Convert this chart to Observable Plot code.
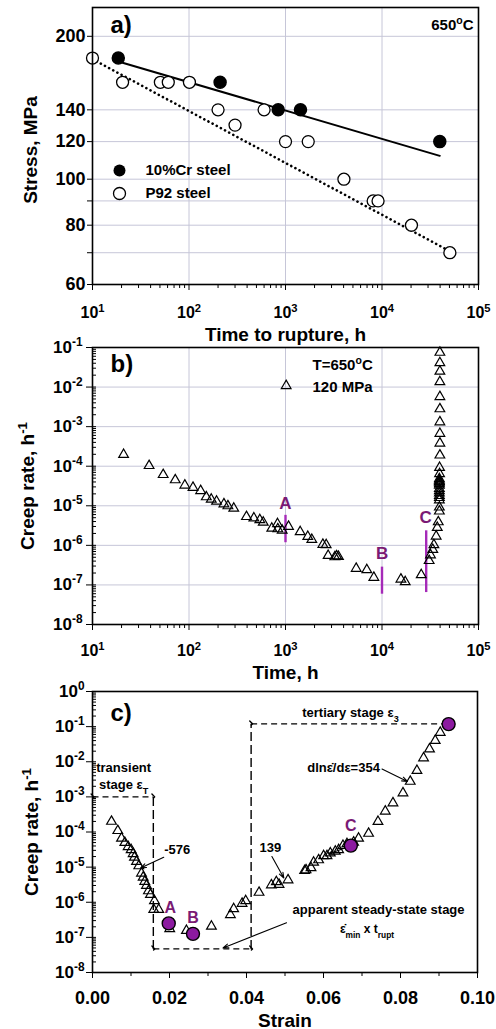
<!DOCTYPE html>
<html><head><meta charset="utf-8">
<script src="https://cdn.jsdelivr.net/npm/d3@7"></script>
<script src="https://cdn.jsdelivr.net/npm/@observablehq/plot@0.6"></script>
<style>
body{margin:0;background:#fff;}
#chart svg{display:block;}
</style></head><body><div id="chart"></div>
<script>
// ---------- Panel a data ----------
const crTime = [18.5, 210, 840, 1430, 39700];
const crStress = [180, 160, 140, 140, 120];
const p92Time = [10, 20.5, 50.5, 61, 101, 200, 300, 600, 1000, 1720, 4030, 8100, 9100, 20200, 50500];
const p92Stress = [180, 160, 160, 160, 160, 140, 130, 140, 120, 120, 100, 90, 90, 80, 70];
const crFitTime = [18.5, 39700];
const crFitStress = [177, 112];
const p92FitTime = [10, 50500];
const p92FitStress = [179, 70.5];
const stressTicks = [60, 80, 100, 120, 140, 200];
const stressMinorTicks = [70, 90];
const stressGrid = [70, 80, 90, 100, 120, 140, 200];
const timeTicks = [10, 100, 1000, 10000, 100000];
const timeGrid = [100, 1000, 10000];
const legendLabels = ["10%Cr steel", "P92 steel"];

// ---------- Panel b data ----------
const timeB = [21, 38.6, 54, 72, 90.5, 110, 132, 151, 170, 193, 230, 253, 291, 394, 470, 542, 588, 721, 826, 832, 924, 1075, 1016, 1419, 1702, 1874, 2438, 2640, 2767, 3245, 3380, 3540, 5400, 6960, 8230, 15700, 17400, 25500, 30800, 31800, 33600, 34500, 36400, 37400, 38300,
  39300, 39300, 39300, 39300, 39300, 39300, 39300, 39300, 39300, 39300, 39300, 39300, 39300, 39300, 39500, 39500,
  39800, 39800, 39800, 39800, 39800, 39800, 39800, 39800, 39800, 39800];
const rateB = [1.96e-4, 1.03e-4, 6.1e-5, 4.5e-5, 3.3e-5, 2.9e-5, 2.4e-5, 1.67e-5, 1.46e-5, 1.3e-5, 1.11e-5, 9.9e-6, 8.6e-6, 5.3e-6, 4.9e-6, 4.4e-6, 3.8e-6, 2.7e-6, 3.5e-6, 2.6e-6, 2.4e-6, 3.0e-6, 1.08e-2, 2.2e-6, 1.67e-6, 1.4e-6, 1.05e-6, 1.03e-6, 5.5e-7, 5.1e-7, 5.4e-7, 5.2e-7, 2.6e-7, 2.4e-7, 1.54e-7, 1.39e-7, 1.2e-7, 1.8e-7, 4.1e-7, 5.7e-7, 7.8e-7, 1.03e-6, 1.7e-6, 2.8e-6, 3.9e-6,
  7.3e-6, 9.2e-6, 1.4e-5, 1.6e-5, 1.8e-5, 2.1e-5, 2.4e-5, 2.7e-5, 3.3e-5, 3.6e-5, 3.9e-5, 4.1e-5, 4.4e-5, 4.8e-5, 6.4e-5, 9.2e-5,
  1.9e-4, 3.8e-4, 6.7e-4, 1.31e-3, 2.8e-3, 5.7e-3, 1.36e-2, 2.5e-2, 4.1e-2, 7.5e-2];
const markLabels = ["A", "B", "C"];
const markTime = [1000, 10000, 28700];
const markLow = [1.2e-6, 6e-8, 6.6e-8];
const markHigh = [5.9e-6, 2.9e-7, 2.4e-6];
const markLabelTime = [1000, 10050, 28300];
const markLabelRate = [1.11e-5, 6.3e-7, 4.94e-6];
const rateTicksB = [1e-8, 1e-7, 1e-6, 1e-5, 1e-4, 1e-3, 1e-2, 1e-1];

// ---------- Panel c data ----------
const strainC = [0.00493, 0.00657, 0.00753, 0.0084, 0.00926, 0.01004, 0.01056, 0.0109, 0.01142, 0.01202, 0.01272, 0.01316, 0.01357, 0.01401, 0.01453, 0.01505, 0.01609, 0.01591, 0.01721,
  0.02006, 0.0244, 0.03089, 0.03582, 0.03667, 0.03885, 0.03979, 0.04326, 0.04646, 0.04775, 0.04845, 0.05079, 0.0551, 0.05546, 0.05676, 0.05743, 0.05873, 0.06003, 0.06091, 0.06177, 0.06307, 0.06393, 0.06506, 0.0661, 0.06782, 0.06911, 0.07171, 0.07415, 0.07604, 0.07804, 0.08064, 0.08253, 0.08427, 0.08599, 0.08754, 0.08902, 0.09032];
const rateC = [2.0e-4, 1.09e-4, 6.6e-5, 5.0e-5, 3.8e-5, 3.1e-5, 2.4e-5, 1.9e-5, 1.43e-5, 1.08e-5, 6.7e-6, 5.1e-6, 3.9e-6, 3.0e-6, 2.1e-6, 1.65e-6, 1.1e-6, 6.2e-7, 6.2e-7,
  1.75e-7, 1.56e-7, 2.07e-7, 4.4e-7, 6.5e-7, 9.2e-7, 1.1e-6, 1.9e-6, 3.1e-6, 3.8e-6, 3.2e-6, 4.3e-6, 7.9e-6, 8.3e-6, 9.5e-6, 1.37e-5, 1.6e-5, 2.1e-5, 2.1e-5, 2.5e-5, 2.8e-5, 3.1e-5, 4.1e-5, 4.6e-5, 5.1e-5, 6.6e-5, 9.1e-5, 1.97e-4, 3.9e-4, 6.7e-4, 1.29e-3, 2.75e-3, 5.6e-3, 1.28e-2, 2.3e-2, 4.0e-2, 6.8e-2];
const pointStrain = [0.0198, 0.0261, 0.0671, 0.0925];
const pointRate = [2.5e-7, 1.26e-7, 4.1e-5, 0.118];
const pointLabels = ["A", "B", "C"];
const pointLabelStrain = [0.0202, 0.0261, 0.0671];
const pointLabelRate = [6.9e-7, 3.7e-7, 1.5e-4];
const dashX1 = [0, 0.0158, 0.0158, 0.0412, 0.0412];
const dashY1 = [1e-3, 1e-3, 4.7e-8, 4.7e-8, 0.12];
const dashX2 = [0.0158, 0.0158, 0.0412, 0.0412, 0.0915];
const dashY2 = [1e-3, 4.7e-8, 4.7e-8, 0.12, 0.12];
const dashHeads = [true, false, true, false, true];
const annText = ["transient", "stage ε_{T}", "tertiary stage ε_{3}", "dlnε\u0307/dε=354", "-576", "139", "apparent steady-state stage", "ε\u0307_{min} x t_{rupt}"];
const annStrain = [0.0081, 0.0081, 0.0670, 0.0652, 0.0220, 0.0462, 0.0743, 0.0713];
const annRate = [6.5e-3, 2.2e-3, 0.243, 6.9e-3, 3.15e-5, 3.66e-5, 6.2e-7, 1.75e-7];
const arrowFromStrain = [0.0185, 0.0466, 0.0752, 0.0504, 0.0661];
const arrowFromRate = [1.9e-5, 2.0e-5, 6.2e-3, 2.6e-7, 3.66e-5];
const arrowToStrain = [0.0125, 0.0497, 0.0818, 0.0339, 0.0613];
const arrowToRate = [9.5e-6, 4.9e-6, 2.75e-3, 5.0e-8, 2.37e-5];
const strainTicks = [0, 0.02, 0.04, 0.06, 0.08, 0.10];
const strainMinorTicks = [0.01, 0.03, 0.05, 0.07, 0.09];
const rateTicksC = [1e-8, 1e-7, 1e-6, 1e-5, 1e-4, 1e-3, 1e-2, 1e-1, 1];

// ---------- styling ----------
const FONT = "'Liberation Sans', Arial, Helvetica, sans-serif";
const GRID = "#c6c6d8";
const P_FILL = "#8c1aa0", P_TEXT = "#7a1a74", P_LINE = "#a52ab8";
const style = {fontFamily: FONT, fontSize: "15px", fontWeight: "bold", background: "white", color: "black", overflow: "visible"};
const pow = d => `10^{${Math.round(Math.log10(d))}}`;
const isPow10 = v => Math.abs(Math.log10(v) - Math.round(Math.log10(v))) < 1e-9;
const minorsLog = dom => d3.scaleLog().domain(dom).ticks().filter(v => !isPow10(v));
const blank = () => "";

const rowsA1 = crTime.map((t, i) => ({t, s: crStress[i]}));
const rowsA2 = p92Time.map((t, i) => ({t, s: p92Stress[i]}));
const fitA1 = crFitTime.map((t, i) => ({t, s: crFitStress[i]}));
const fitA2 = p92FitTime.map((t, i) => ({t, s: p92FitStress[i]}));

const plotA = Plot.plot({
  width: 496, height: 340, marginTop: 7, marginRight: 18, marginBottom: 56, marginLeft: 92,
  style,
  x: {type: "log", domain: [10, 1e5]},
  y: {type: "log", domain: [60, 230]},
  marks: [
    Plot.gridX({ticks: timeGrid, stroke: GRID, strokeOpacity: 1}),
    Plot.gridY({ticks: stressGrid, stroke: GRID, strokeOpacity: 1}),
    Plot.line(fitA1, {x: "t", y: "s", stroke: "black", strokeWidth: 2}),
    Plot.line(fitA2, {x: "t", y: "s", stroke: "black", strokeWidth: 2.6, strokeDasharray: "0.1,4.6", strokeLinecap: "round"}),
    Plot.dot(rowsA2, {x: "t", y: "s", r: 6, fill: "white", stroke: "black", strokeWidth: 1.3}),
    Plot.dot(rowsA1, {x: "t", y: "s", r: 6, fill: "black", stroke: "black"}),
    Plot.frame({stroke: "black", strokeWidth: 1.6}),
    Plot.axisX({ticks: timeTicks, tickSize: 6, tickPadding: 16, tickFormat: pow, label: null, fontSize: 16}),
    Plot.axisX({ticks: minorsLog([10, 1e5]), tickSize: 4, tickFormat: blank, label: null}),
    Plot.axisY({ticks: stressTicks, tickSize: 5, tickPadding: 2, tickFormat: d => d, label: null, fontSize: 18}),
    Plot.axisY({ticks: stressMinorTicks, tickSize: 5, tickFormat: blank, label: null}),
    Plot.text(["a)"], {text: d => d, frameAnchor: "top-left", dx: 18, dy: 18, textAnchor: "start", lineAnchor: "middle", fontSize: 24}),
    Plot.text(["650^{o}C"], {text: d => d, frameAnchor: "top-right", dx: -5, dy: 18, textAnchor: "end", lineAnchor: "middle", fontSize: 15}),
    Plot.dot([0], {frameAnchor: "top-left", dx: 27, dy: 163, r: 6, fill: "black"}),
    Plot.dot([0], {frameAnchor: "top-left", dx: 27, dy: 186, r: 6, fill: "white", stroke: "black", strokeWidth: 1.3}),
    Plot.text([legendLabels[0]], {text: d => d, frameAnchor: "top-left", dx: 53, dy: 163, textAnchor: "start", lineAnchor: "middle", fontSize: 15}),
    Plot.text([legendLabels[1]], {text: d => d, frameAnchor: "top-left", dx: 53, dy: 186, textAnchor: "start", lineAnchor: "middle", fontSize: 15}),
    Plot.text(["Stress, MPa"], {text: d => d, frameAnchor: "left", dx: -62, dy: 4, rotate: -90, textAnchor: "middle", lineAnchor: "middle", fontSize: 19}),
    Plot.text(["Time to rupture, h"], {text: d => d, frameAnchor: "bottom", dy: 50, textAnchor: "middle", lineAnchor: "middle", fontSize: 19})
  ]
});

const rowsB = timeB.map((t, i) => ({t, r: rateB[i]}));
const marksB = markLabels.map((l, i) => ({l, t: markTime[i], lo: markLow[i], hi: markHigh[i], lt: markLabelTime[i], lr: markLabelRate[i]}));

const plotB = Plot.plot({
  width: 496, height: 340, marginTop: 7, marginRight: 18, marginBottom: 56, marginLeft: 92,
  style,
  x: {type: "log", domain: [10, 1e5]},
  y: {type: "log", domain: [1e-8, 1e-1]},
  marks: [
    Plot.gridX({ticks: timeGrid, stroke: GRID, strokeOpacity: 1}),
    Plot.gridY({ticks: rateTicksB.slice(1, -1), stroke: GRID, strokeOpacity: 1}),
    Plot.link(marksB, {x1: "t", x2: "t", y1: "lo", y2: "hi", stroke: P_LINE, strokeWidth: 2.4}),
    Plot.text(marksB, {x: "lt", y: "lr", text: "l", fill: P_TEXT, fontSize: 17, textAnchor: "middle", lineAnchor: "middle"}),
    Plot.dot(rowsB, {x: "t", y: "r", symbol: "triangle", r: 3.6, fill: "none", stroke: "black", strokeWidth: 1.2}),
    Plot.frame({stroke: "black", strokeWidth: 1.6}),
    Plot.axisX({ticks: timeTicks, tickSize: 6, tickPadding: 14, tickFormat: pow, label: null, fontSize: 16}),
    Plot.axisX({ticks: minorsLog([10, 1e5]), tickSize: 4, tickFormat: blank, label: null}),
    Plot.axisY({ticks: rateTicksB, tickSize: 6, tickPadding: 4, tickFormat: pow, label: null, fontSize: 17}),
    Plot.axisY({ticks: minorsLog([1e-8, 1e-1]).concat(rateTicksB), tickSize: -4, tickFormat: blank, label: null}),
    Plot.text(["b)"], {text: d => d, frameAnchor: "top-left", dx: 18, dy: 17, textAnchor: "start", lineAnchor: "middle", fontSize: 24}),
    Plot.text(["T=650^{o}C"], {text: d => d, frameAnchor: "top-left", dx: 220, dy: 18, textAnchor: "start", lineAnchor: "middle", fontSize: 15}),
    Plot.text(["120 MPa"], {text: d => d, frameAnchor: "top-left", dx: 220, dy: 40, textAnchor: "start", lineAnchor: "middle", fontSize: 15}),
    Plot.text(["Creep rate, h^{-1}"], {text: d => d, frameAnchor: "left", dx: -65, rotate: -90, textAnchor: "middle", lineAnchor: "middle", fontSize: 19}),
    Plot.text(["Time, h"], {text: d => d, frameAnchor: "bottom", dy: 48, textAnchor: "middle", lineAnchor: "middle", fontSize: 19})
  ]
});

const rowsC = strainC.map((e, i) => ({e, r: rateC[i]}));
const ptsC = pointStrain.map((e, i) => ({e, r: pointRate[i]}));
const lblC = pointLabels.map((l, i) => ({l, e: pointLabelStrain[i], r: pointLabelRate[i]}));
const dashC = dashX1.map((x1, i) => ({x1, y1: dashY1[i], x2: dashX2[i], y2: dashY2[i], h: dashHeads[i]}));
const annC = annText.map((s, i) => ({s, e: annStrain[i], r: annRate[i]}));
const arrC = arrowFromStrain.map((x1, i) => ({x1, y1: arrowFromRate[i], x2: arrowToStrain[i], y2: arrowToRate[i]}));

const plotC = Plot.plot({
  width: 496, height: 349, marginTop: 11, marginRight: 19, marginBottom: 57, marginLeft: 92,
  style,
  x: {type: "linear", domain: [0, 0.10]},
  y: {type: "log", domain: [1e-8, 1]},
  marks: [
    Plot.link(dashC.filter(d => d.h), {x1: "x1", y1: "y1", x2: "x2", y2: "y2", stroke: "black", strokeWidth: 1.4, strokeDasharray: "6,4", markerStart: "arrow", markerEnd: "arrow"}),
    Plot.link(dashC.filter(d => !d.h), {x1: "x1", y1: "y1", x2: "x2", y2: "y2", stroke: "black", strokeWidth: 1.4, strokeDasharray: "9,4"}),
    Plot.arrow(arrC, {x1: "x1", y1: "y1", x2: "x2", y2: "y2", stroke: "black", strokeWidth: 1.1, headLength: 8, headAngle: 40}),
    Plot.dot(rowsC, {x: "e", y: "r", symbol: "triangle", r: 3.6, fill: "none", stroke: "black", strokeWidth: 1.2}),
    Plot.dot(ptsC, {x: "e", y: "r", r: 6.5, fill: P_FILL, stroke: "black", strokeWidth: 1.4}),
    Plot.text(lblC, {x: "e", y: "r", text: "l", fill: P_TEXT, fontSize: 16, textAnchor: "middle", lineAnchor: "middle"}),
    Plot.text(annC.filter((d, i) => i !== 7), {x: "e", y: "r", text: "s", fontSize: 13, textAnchor: "middle", lineAnchor: "middle"}),
    Plot.text(annC.filter((d, i) => i === 7), {x: "e", y: "r", text: "s", fontSize: 12, textAnchor: "middle", lineAnchor: "middle"}),
    Plot.frame({stroke: "black", strokeWidth: 1.6}),
    Plot.axisX({ticks: strainTicks, tickSize: 6, tickPadding: 13, tickFormat: d3.format(".2f"), label: null, fontSize: 18}),
    Plot.axisX({ticks: strainMinorTicks, tickSize: 4, tickFormat: blank, label: null}),
    Plot.axisY({ticks: rateTicksC, tickSize: 6, tickPadding: 2, tickFormat: pow, label: null, fontSize: 17}),
    Plot.axisY({ticks: minorsLog([1e-8, 1]).concat(rateTicksC), tickSize: -4, tickFormat: blank, label: null}),
    Plot.text(["c)"], {text: d => d, frameAnchor: "top-left", dx: 18, dy: 22, textAnchor: "start", lineAnchor: "middle", fontSize: 24}),
    Plot.text(["Creep rate, h^{-1}"], {text: d => d, frameAnchor: "left", dx: -61, rotate: -90, textAnchor: "middle", lineAnchor: "middle", fontSize: 19}),
    Plot.text(["Strain"], {text: d => d, frameAnchor: "bottom", dy: 48, textAnchor: "middle", lineAnchor: "middle", fontSize: 19})
  ]
});

function richify(svg) {
  svg.querySelectorAll("text").forEach(t => {
    const targets = t.querySelector("tspan") ? Array.from(t.querySelectorAll("tspan")) : [t];
    targets.forEach(el => {
      const s = el.textContent;
      if (!/[\^_]\{/.test(s)) return;
      el.textContent = "";
      s.split(/([\^_]\{[^}]*\})/).filter(p => p).forEach(p => {
        const ts = document.createElementNS("http://www.w3.org/2000/svg", "tspan");
        if (/^[\^_]\{/.test(p)) {
          ts.textContent = p.slice(2, -1);
          ts.setAttribute("baseline-shift", p[0] === "^" ? "super" : "sub");
          ts.setAttribute("font-size", "70%");
        } else ts.textContent = p;
        el.appendChild(ts);
      });
    });
  });
}
const root = document.getElementById("chart");
[plotA, plotB, plotC].forEach(p => { richify(p); root.appendChild(p); });
</script></body></html>
